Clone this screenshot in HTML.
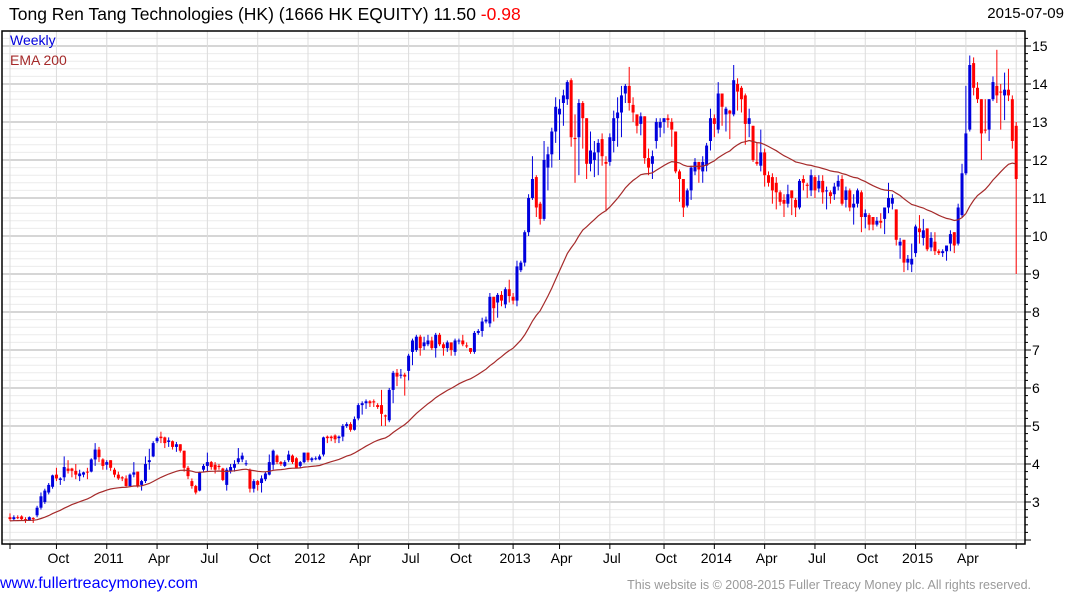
<!DOCTYPE html>
<html><head><meta charset="utf-8"><style>
html,body{margin:0;padding:0;background:#fff;}
body{width:1075px;height:600px;overflow:hidden;position:relative;font-family:"Liberation Sans",Arial,sans-serif;}
.t{position:absolute;white-space:nowrap;}
</style></head><body>
<div class="t" style="left:9px;top:4px;font-size:17.5px;color:#000;">Tong Ren Tang Technologies (HK) (1666 HK EQUITY) 11.50 <span style="color:#f00">-0.98</span></div>
<div class="t" style="right:11px;top:5px;font-size:15px;color:#000;">2015-07-09</div>
<svg id="chart" width="1075" height="600" style="position:absolute;left:0;top:0;" xmlns="http://www.w3.org/2000/svg"></svg>
<div class="t" style="left:10px;top:32px;font-size:14px;color:#0000dd;">Weekly</div>
<div class="t" style="left:10px;top:52px;font-size:14px;color:#a52a2a;">EMA 200</div>
<div class="t" style="left:0px;top:575px;font-size:16px;color:#0000ff;">www.fullertreacymoney.com</div>
<div class="t" style="right:44px;top:578px;font-size:12.5px;color:#999;">This website is © 2008-2015 Fuller Treacy Money plc. All rights reserved.</div>
<script>
const opens=[2.6,2.55,2.6,2.62,2.55,2.5,2.58,2.65,2.85,3.0,3.25,3.4,3.72,3.58,3.65,3.88,3.88,3.82,3.68,3.72,3.8,3.8,4.12,4.38,4.12,3.98,4.1,3.85,3.72,3.65,3.62,3.42,3.72,3.8,3.45,3.55,4.05,4.2,4.6,4.72,4.7,4.58,4.6,4.45,4.52,4.35,3.9,3.55,3.42,3.3,3.85,3.95,4.05,3.98,3.95,3.88,3.45,3.82,3.9,4.05,4.12,4.0,3.85,3.35,3.55,3.5,3.6,3.72,3.98,4.22,4.05,3.95,4.1,4.22,4.15,3.95,4.05,4.3,4.1,4.15,4.12,4.25,4.72,4.72,4.75,4.68,4.72,5.0,5.05,4.9,5.2,5.55,5.6,5.65,5.65,5.55,5.55,5.28,5.15,5.95,6.4,6.35,6.35,6.45,6.95,7.0,7.35,7.1,7.15,7.25,7.05,7.4,7.15,7.05,7.2,6.95,7.25,7.25,7.12,7.05,6.95,7.45,7.5,7.75,7.7,8.4,8.25,8.45,8.2,8.6,8.4,8.3,9.1,9.3,10.1,11.0,11.55,10.85,10.45,11.8,12.15,12.75,13.2,13.5,13.6,14.1,12.58,12.6,13.5,13.1,11.9,12.0,12.2,12.55,11.95,11.95,12.5,13.1,13.25,13.75,13.95,13.45,13.2,12.95,13.15,12.05,11.9,12.5,12.85,13.0,13.1,13.0,12.75,11.7,11.5,10.8,11.2,11.7,11.95,11.7,11.85,12.5,13.1,12.8,13.75,13.2,13.3,13.2,14.0,13.9,13.7,12.95,12.9,11.95,11.85,12.2,11.6,11.55,11.4,11.15,10.95,10.85,11.2,10.95,10.75,11.5,11.35,11.2,11.55,11.25,11.45,11.2,11.15,11.1,11.3,11.5,10.95,11.2,10.75,10.85,11.15,10.5,10.55,10.5,10.3,10.4,10.45,10.75,10.85,10.7,9.75,9.9,9.3,9.25,9.55,10.2,9.95,10.2,9.7,9.85,9.6,9.55,9.6,9.8,10.1,9.8,10.55,11.65,12.8,14.55,13.9,13.6,12.8,12.8,13.6,13.95,13.8,13.7,13.85,13.6,12.9];
const closes=[2.55,2.6,2.58,2.55,2.52,2.6,2.55,2.85,3.15,3.3,3.45,3.7,3.62,3.62,3.92,3.82,3.82,3.72,3.75,3.78,3.78,4.12,4.38,4.18,3.95,4.05,3.9,3.72,3.62,3.62,3.42,3.72,3.78,3.42,3.55,4.0,4.1,4.55,4.68,4.68,4.55,4.62,4.45,4.52,4.35,3.9,3.68,3.42,3.25,3.78,3.95,4.05,3.92,3.85,3.92,3.58,3.85,3.92,4.0,4.15,4.22,4.02,3.35,3.55,3.45,3.62,3.75,4.05,4.35,4.05,4.0,4.05,4.25,4.05,3.9,4.05,4.3,4.1,4.15,4.15,4.2,4.7,4.68,4.68,4.65,4.72,5.0,5.05,4.9,5.18,5.55,5.6,5.65,5.6,5.62,5.5,5.32,5.25,5.95,6.4,6.3,6.35,6.3,6.85,7.25,7.35,7.05,7.2,7.25,7.05,7.4,7.15,7.05,7.2,7.0,7.25,7.25,7.15,7.1,6.95,7.45,7.5,7.75,7.8,8.4,8.1,8.45,8.3,8.6,8.42,8.3,9.2,9.3,10.1,11.0,11.5,10.75,10.45,12.0,12.15,12.75,13.4,13.35,13.7,14.05,12.6,12.55,13.5,13.1,11.9,12.25,12.2,12.45,12.1,11.9,12.6,13.1,13.25,13.7,13.95,13.5,13.25,12.9,13.15,12.05,11.8,12.1,13.0,13.0,13.1,13.05,12.8,11.7,11.5,10.75,11.2,11.8,11.95,11.75,11.95,12.38,13.1,12.95,13.75,13.4,13.35,13.22,14.1,13.8,13.6,12.95,13.1,12.0,11.9,12.2,11.6,11.4,11.2,11.15,10.9,10.85,11.1,11.0,10.75,11.45,11.4,11.32,11.6,11.2,11.45,11.15,11.2,11.05,11.3,11.45,10.85,11.2,10.75,10.85,11.2,10.5,10.6,10.3,10.3,10.4,10.35,10.75,11.0,11.0,9.9,9.85,9.3,9.4,9.4,10.25,10.1,10.15,9.65,9.95,9.6,9.55,9.6,9.75,10.05,9.75,10.75,11.65,12.7,14.5,13.9,13.6,12.7,12.78,13.6,14.05,13.7,13.78,13.85,13.7,12.5,11.5];
const highs=[2.7,2.65,2.65,2.65,2.6,2.62,2.6,2.9,3.25,3.35,3.5,3.72,3.9,3.65,4.2,4.1,3.9,4.0,3.85,3.8,3.9,4.15,4.55,4.45,4.15,4.1,4.1,3.9,3.8,3.68,3.7,3.75,4.05,3.8,3.58,4.2,4.4,4.6,4.72,4.85,4.72,4.7,4.62,4.58,4.52,4.35,3.95,3.62,3.45,3.8,4.0,4.3,4.08,4.05,4.0,3.9,3.9,4.0,4.1,4.42,4.3,4.1,3.88,3.6,3.58,3.7,3.8,4.25,4.38,4.25,4.08,4.1,4.35,4.25,4.18,4.08,4.3,4.3,4.18,4.2,4.25,4.72,4.75,4.75,4.78,4.75,5.05,5.1,5.1,5.25,5.6,5.65,5.7,5.68,5.7,5.6,5.95,5.3,6.0,6.45,6.5,6.5,6.4,6.9,7.3,7.4,7.4,7.35,7.4,7.35,7.45,7.45,7.2,7.25,7.2,7.3,7.3,7.4,7.2,7.05,7.5,7.55,7.85,7.88,8.5,8.4,8.5,8.55,8.65,8.85,8.5,9.35,9.35,10.15,11.1,12.1,11.6,10.9,12.5,12.35,12.85,13.65,13.6,13.85,14.1,14.15,13.2,13.6,13.55,13.1,12.75,12.5,12.55,12.7,12.1,12.7,13.3,13.65,13.95,14.0,14.45,13.65,13.2,13.25,13.15,12.3,12.25,13.1,13.1,13.1,13.2,13.1,12.75,11.75,11.5,11.25,11.85,12.05,11.95,12.1,12.45,13.35,13.2,14.05,13.75,13.4,13.32,14.5,14.15,13.95,13.75,13.35,12.9,12.45,12.8,12.3,11.7,11.65,11.55,11.2,11.1,11.35,11.2,11.0,11.5,11.6,11.4,11.75,11.6,11.6,11.6,11.3,11.2,11.4,11.6,11.6,11.3,11.25,11.1,11.25,11.2,10.7,10.6,10.5,10.5,10.6,10.75,11.4,11.1,10.7,9.95,9.9,9.5,9.8,10.3,10.55,10.45,10.2,10.1,10.1,9.65,9.65,9.75,10.15,10.1,10.85,11.9,13.95,14.75,14.7,14.05,13.6,13.6,13.6,14.2,14.9,14.0,14.3,14.4,13.7,13.0];
const lows=[2.5,2.5,2.55,2.5,2.45,2.5,2.45,2.6,2.8,2.95,3.2,3.35,3.55,3.45,3.55,3.75,3.65,3.6,3.55,3.65,3.6,3.78,3.95,4.05,3.85,3.85,3.82,3.65,3.58,3.55,3.4,3.4,3.65,3.38,3.3,3.5,3.85,4.18,4.55,4.55,4.42,4.45,4.38,4.32,4.3,3.8,3.6,3.35,3.2,3.28,3.8,3.8,3.85,3.75,3.85,3.55,3.3,3.75,3.8,4.0,4.05,3.95,3.25,3.25,3.3,3.25,3.55,3.7,3.85,4.0,3.95,3.92,4.05,4.0,3.9,3.9,4.02,4.05,4.05,4.1,4.1,4.2,4.55,4.6,4.55,4.55,4.6,4.95,4.85,4.88,5.15,5.3,5.45,5.5,5.5,5.45,5.0,5.0,5.1,5.6,6.05,6.25,5.8,6.2,6.6,6.95,6.85,7.0,7.1,7.0,6.8,7.1,6.85,6.95,6.85,6.85,7.15,7.1,7.05,6.9,6.9,7.4,7.35,7.7,7.6,7.75,7.85,8.15,8.1,8.25,8.2,8.15,9.05,9.2,10.0,10.95,10.5,10.3,10.4,11.2,11.8,12.45,12.0,12.9,13.45,12.35,11.4,11.6,12.3,11.5,11.7,11.55,11.6,11.85,10.65,11.85,12.2,12.35,12.6,13.5,13.3,13.0,12.7,12.65,11.9,11.6,11.5,12.3,12.6,12.7,12.85,12.35,11.65,10.9,10.5,10.75,10.95,11.6,11.4,11.4,11.7,12.25,12.6,12.7,12.9,12.75,12.55,13.15,13.3,13.25,12.4,12.6,11.95,11.85,11.7,11.3,11.3,10.85,10.7,10.8,10.5,10.75,10.55,10.5,10.7,11.2,11.0,11.05,11.0,11.15,10.85,10.7,10.85,10.95,11.2,10.8,10.75,10.65,10.3,10.75,10.1,10.2,10.15,10.15,10.25,10.2,10.05,10.6,10.7,9.75,9.4,9.05,9.1,9.05,9.45,9.8,9.75,9.6,9.6,9.5,9.5,9.45,9.35,9.6,9.55,9.75,10.5,11.6,12.75,13.7,13.5,12.0,12.7,12.5,13.55,13.5,12.8,13.05,13.55,12.3,9.0];
const emaPeriod=40;
const emaSeed=2.5;
const yTicks=[3,4,5,6,7,8,9,10,11,12,13,14,15];
const xTickWeeks=[0,12,25,38,51,64,77,90,103,116,130,142,155,169,182,195,208,221,234,247,260];
const xTickLabels=['','Oct','2011','Apr','Jul','Oct','2012','Apr','Jul','Oct','2013','Apr','Jul','Oct','2014','Apr','Jul','Oct','2015','Apr',''];

const NS='http://www.w3.org/2000/svg';
const svg=document.getElementById('chart');
const L=2,R=1025,T=31,B=544;
function xs(i){return 10+i*3.87;}
function ys(p){return 274-(p-9)*38;}
function mk(tag,attrs,parent){const e=document.createElementNS(NS,tag);for(const k in attrs)e.setAttribute(k,attrs[k]);(parent||svg).appendChild(e);return e;}

const grid=mk('g',{});


for(let v=2;v<=15.4;v+=0.2){const vv=Math.round(v*10)/10;const y=ys(vv);if(y<T||y>B)continue;
 const major=Math.abs(vv-Math.round(vv))<0.01;
 const ln=mk('line',{x1:L,x2:R,y1:y,y2:y,stroke:major?'#bdbdbd':'#ececec','stroke-width':major?1.2:1},grid);
 
 
 const tk=mk('line',{x1:R,x2:R+(major?6:3),y1:y,y2:y,stroke:'#000'},grid);
 
 
}
xTickWeeks.forEach((w,k)=>{const x=xs(w);
 const ln=mk('line',{x1:x,x2:x,y1:T,y2:B,stroke:'#dcdcdc'},grid);
 
 
 const tk=mk('line',{x1:x,x2:x,y1:B,y2:B+5,stroke:'#000'},grid);
 
 
 if(xTickLabels[k]){const t=mk('text',{x:x+2,y:B+19,'font-size':14,'text-anchor':'middle','font-family':'Liberation Sans, Arial, sans-serif',fill:'#000'},grid);t.textContent=xTickLabels[k];
 
 }
});
yTicks.forEach(v=>{const t=mk('text',{x:1032,y:ys(v)+5,'font-size':14,'font-family':'Liberation Sans, Arial, sans-serif',fill:'#000'});t.textContent=v;
 
 });

const frame=mk('path',{d:`M${L},${T}H${R}V${B}H${L}Z`,fill:'none',stroke:'#000','stroke-width':1.5});



const cg=mk('g',{});


closes.forEach((c,i)=>{const o=opens[i];const col=c>=o?'#0000dd':'#f00';const x=xs(i);
 const g=mk('g',{},cg);
 
 
 mk('line',{x1:x,x2:x,y1:ys(highs[i]),y2:ys(lows[i]),stroke:col,'stroke-width':1},g);
 const top=ys(Math.max(o,c)),bot=ys(Math.min(o,c));
 mk('rect',{x:x-1.5,y:top,width:3,height:Math.max(1,bot-top),fill:col},g);
});
const a=2/(emaPeriod+1);let e=emaSeed;const pts=[];
closes.forEach((c,i)=>{e=e+a*(c-e);pts.push(xs(i).toFixed(1)+','+ys(e).toFixed(1));});
const ema=mk('polyline',{points:pts.join(' '),fill:'none',stroke:'#a52a2a','stroke-width':1.2});


</script>
</body></html>
